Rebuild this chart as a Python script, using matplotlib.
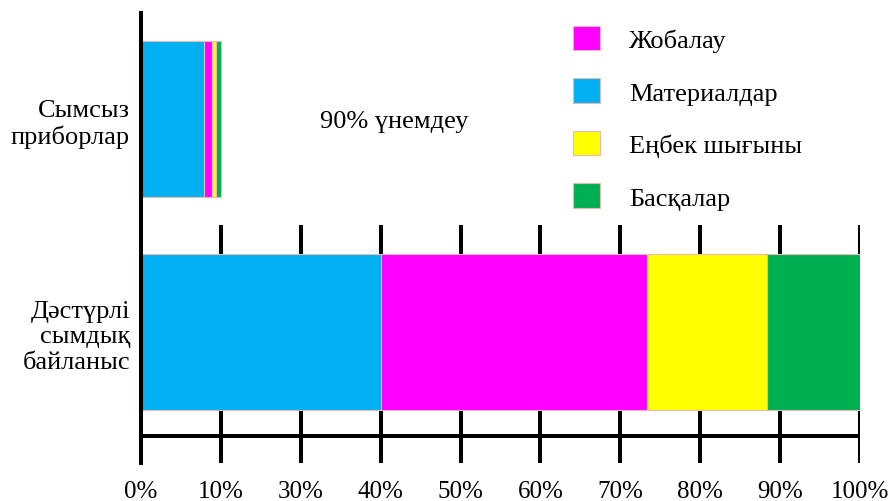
import numpy as np
import matplotlib
matplotlib.use("Agg")
import matplotlib.pyplot as plt

plt.rcParams['font.family'] = ['Liberation Serif', 'DejaVu Serif']

# данные (проценты по подписям оси)
categories = ['Дәстүрлі\nсымдық\nбайланыс', 'Сымсыз\nприборлар']
materials = [40.0, 7.85]   # Материалдар
design = [33.4, 1.0]       # Жобалау
labor = [14.9, 0.5]        # Еңбек шығыны
other = [11.7, 0.65]       # Басқалар

tick_vals = [0, 10, 30, 40, 50, 60, 70, 80, 90, 100]
tick_labels = [f'{t}%' for t in tick_vals]
note = '90% үнемдеу'

c_blue = '#00B0F0'
c_mag = '#FF00FF'
c_yel = '#FFFF00'
c_grn = '#00B050'
edge = '#E6B8B7'

# ось подписана неравномерно (нет 20%), поэтому кусочно-линейная шкала
idx = np.arange(len(tick_vals))
def fwd(x):
    return np.interp(x, tick_vals, idx)
def inv(x):
    return np.interp(x, idx, tick_vals)

fig = plt.figure(figsize=(8.93, 5.02), dpi=100)
ax = fig.add_axes([141/893, 1 - 464/502, (860 - 141)/893, (464 - 14)/502])
ax.set_xscale('function', functions=(fwd, inv))

y = np.arange(len(categories))
h = 0.73
left = np.zeros(len(categories))
b1 = ax.barh(y, materials, h, left=left, color=c_blue, edgecolor=edge, lw=0.8, zorder=3)
left += materials
b2 = ax.barh(y, design, h, left=left, color=c_mag, edgecolor=edge, lw=0.8, zorder=3)
left += design
b3 = ax.barh(y, labor, h, left=left, color=c_yel, edgecolor=edge, lw=0.8, zorder=3)
left += labor
b4 = ax.barh(y, other, h, left=left, color=c_grn, edgecolor=edge, lw=0.8, zorder=3)

ax.set_xlim(0, 100)
ax.set_ylim(-0.615, 1.498)

# сетка-риски и горизонтальная ось
ax.vlines(tick_vals[1:], -0.615, 0.502, color='black', lw=2.9, zorder=1)
ax.axhline(-0.488, color='black', lw=2.9, zorder=2)

for s in ['top', 'right', 'bottom']:
    ax.spines[s].set_visible(False)
ax.spines['left'].set_linewidth(2.9)
ax.spines['left'].set_zorder(4)

ax.set_xticks(tick_vals)
ax.set_xticklabels(tick_labels, fontsize=18)
ax.set_yticks(y)
ax.set_yticklabels(categories, fontsize=19, ha='right', linespacing=1.2)
ax.tick_params(axis='x', length=0, pad=12)
ax.tick_params(axis='y', length=0, pad=8)

ax.text(41.7, 0.99, note, ha='center', va='center', fontsize=19)

leg = fig.legend([b2, b1, b3, b4], ['Жобалау', 'Материалдар', 'Еңбек шығыны', 'Басқалар'],
                 loc='upper left', bbox_to_anchor=(573/893, 1 - 27/502), frameon=False,
                 fontsize=19, handlelength=1.03, handleheight=1.03, handletextpad=1.1,
                 labelspacing=1.0, borderpad=0, borderaxespad=0)

fig.savefig('out.png', dpi=100)
